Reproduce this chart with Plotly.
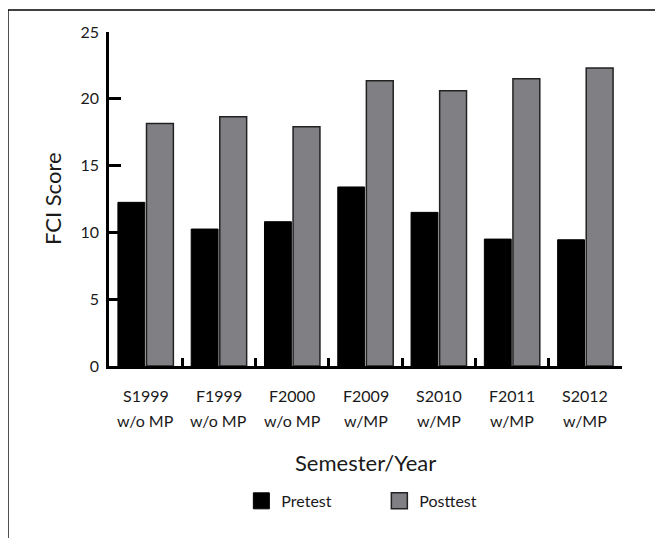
import plotly.graph_objects as go

categories = ["S1999", "F1999", "F2000", "F2009", "S2010", "F2011", "S2012"]
category_notes = ["w/o MP", "w/o MP", "w/o MP", "w/MP", "w/MP", "w/MP", "w/MP"]
pretest = [12.25, 10.25, 10.8, 13.4, 11.5, 9.5, 9.45]
posttest = [18.15, 18.65, 17.9, 21.35, 20.6, 21.5, 22.3]
y_ticks = [0, 5, 10, 15, 20, 25]

FONT = "Lato, 'Open Sans', sans-serif"
TXT = "#1a1a1a"
PRE_COLOR = "#000000"
POST_COLOR = "#808084"

fig = go.Figure()
fig.add_trace(go.Bar(x=categories, y=pretest, name="Pretest", showlegend=False,
                     marker=dict(color=PRE_COLOR, line=dict(color="#000000", width=1))))
fig.add_trace(go.Bar(x=categories, y=posttest, name="Posttest", showlegend=False,
                     marker=dict(color=POST_COLOR, line=dict(color="#222222", width=1.5))))
# legend-only entries with larger square swatches
fig.add_trace(go.Scatter(x=[categories[0]], y=[None], mode="markers", name="Pretest",
                         marker=dict(symbol="square", size=16, color=PRE_COLOR,
                                     line=dict(color="#000000", width=1))))
fig.add_trace(go.Scatter(x=[categories[0]], y=[None], mode="markers", name="Posttest",
                         marker=dict(symbol="square", size=16, color=POST_COLOR,
                                     line=dict(color="#222222", width=1.5))))

annotations = []
for c, n in zip(categories, category_notes):
    annotations.append(dict(x=c, xref="x", y=-0.087, yref="paper", text=c, showarrow=False,
                            yanchor="middle", font=dict(size=16, color=TXT, family=FONT)))
    annotations.append(dict(x=c, xref="x", y=-0.162, yref="paper", text=n, showarrow=False,
                            yanchor="middle", font=dict(size=16, color=TXT, family=FONT)))
annotations.append(dict(x=0.5, xref="paper", y=-0.29, yref="paper", text="Semester/Year",
                        showarrow=False, yanchor="middle",
                        font=dict(size=22, color=TXT, family=FONT)))
annotations.append(dict(x=-0.111, xref="paper", y=0.5, yref="paper", text="FCI Score",
                        showarrow=False, textangle=-90, xanchor="center", yanchor="middle",
                        font=dict(size=22, color=TXT, family=FONT)))

fig.update_layout(
    width=655, height=530,
    margin=dict(l=101, r=41, t=24, b=172),
    paper_bgcolor="white", plot_bgcolor="white",
    barmode="group", bargap=0.22, bargroupgap=0.06,
    font=dict(family=FONT, color=TXT, size=16),
    showlegend=True,
    legend=dict(orientation="h", x=0.527, xanchor="center", y=-0.404, yanchor="middle",
                font=dict(size=16, color=TXT, family=FONT), entrywidth=93,
                entrywidthmode="pixels", traceorder="normal"),
    annotations=annotations,
    shapes=[
        dict(type="line", xref="paper", yref="paper", x0=-0.197, x1=1.1, y0=1.066, y1=1.066,
             line=dict(color="#000000", width=1.5)),
        dict(type="line", xref="paper", yref="paper", x0=-0.197, x1=-0.197, y0=1.066, y1=-0.55,
             line=dict(color="#000000", width=1.5)),
    ],
)
fig.update_xaxes(type="category", showline=True, linecolor="#000000", linewidth=2.5,
                 ticks="inside", tickson="boundaries", ticklen=8, tickwidth=2.5,
                 tickcolor="#000000", showticklabels=False, showgrid=False, zeroline=False)
fig.update_yaxes(range=[0, 25], tickvals=y_ticks, showline=True, linecolor="#000000",
                 linewidth=2.5, ticks="inside", ticklen=12, tickwidth=2.5, tickcolor="#000000",
                 showgrid=False, zeroline=False, tickfont=dict(size=16, color=TXT, family=FONT),
                 ticklabelstandoff=4)

fig.write_html("out.html")
